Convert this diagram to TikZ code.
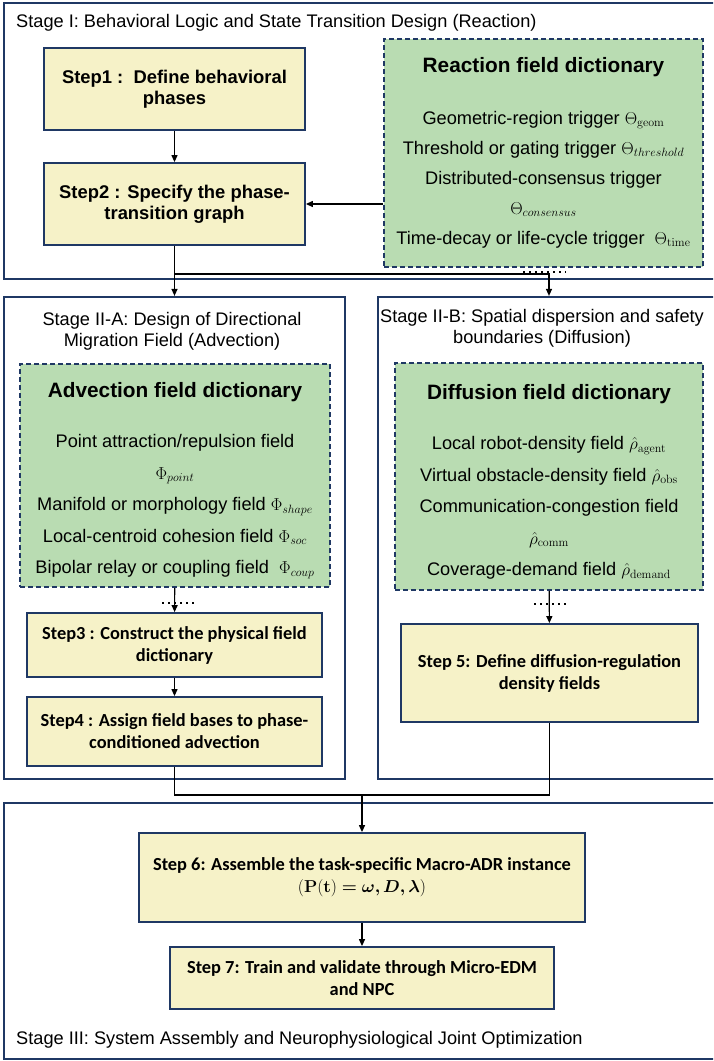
\documentclass[tikz,border=0pt]{standalone}
\usepackage{amsmath}
\usepackage{amssymb}
\usepackage{bm}
\usepackage[no-math]{fontspec}
\setmainfont{Liberation Sans}
\newfontfamily\stepfont{Carlito}
\usepackage{tikz}
\usepackage{xcolor}
\usetikzlibrary{arrows.meta}

\definecolor{framenavy}{RGB}{31,56,100}
\definecolor{stepyellow}{RGB}{246,242,200}
\definecolor{dictgreen}{RGB}{185,220,178}

\begin{document}
\begin{tikzpicture}[x=1pt, y=-1pt,
    stage/.style={draw=framenavy, line width=2.2pt, inner sep=0pt},
    stagetitle/.style={inner sep=0pt, align=center, font=\fontsize{18.2}{21}\selectfont},
    stepbox/.style={draw=framenavy, fill=stepyellow, line width=1.8pt, inner sep=0pt, align=center,
        font=\stepfont\bfseries\fontsize{18.4}{22}\selectfont},
    firststep/.style={stepbox, font=\bfseries\fontsize{18.4}{21}\selectfont},
    dictbox/.style={draw=framenavy, fill=dictgreen, line width=1.5pt, dash pattern=on 5pt off 3pt,
        inner sep=0pt, align=center, font=\fontsize{18.2}{31.5}\selectfont},
    conn/.style={draw=black, line width=1.2pt},
    arrow/.style={conn, -{Triangle[length=7pt, width=6pt]}},
    dotline/.style={draw=black, line width=1.3pt, dash pattern=on 1.5pt off 4.5pt}
    ]

        \useasboundingbox (0,0) rectangle (713,1061);
        \clip (0,0) rectangle (713,1061);

        % stage frames
        \node[stage, minimum width=716, minimum height=276] (stage1) at (362,141) {};
        \node[stage, minimum width=341, minimum height=482] (stage2a) at (174.5,538) {};
        \node[stage, minimum width=342, minimum height=482] (stage2b) at (549,538) {};
        \node[stage, minimum width=716, minimum height=256] (stage3) at (362,931) {};

        \node[stagetitle, anchor=west] (title1) at (16,23) {Stage I: Behavioral Logic and State Transition Design (Reaction)};
        \node[stagetitle] (title2a) at (172,331) {Stage II-A: Design of Directional\\Migration Field (Advection)};
        \node[stagetitle] (title2b) at (542,328) {Stage II-B: Spatial dispersion and safety\\boundaries (Diffusion)};
        \node[stagetitle, anchor=west] (title3) at (16,1040) {Stage III: System Assembly and Neurophysiological Joint Optimization};

        % stage I
        \node[firststep, minimum width=261, minimum height=82] (step1) at (174.5,89) {Step1 :\ \ Define behavioral\\phases};
        \node[firststep, minimum width=261, minimum height=82] (step2) at (174.5,204) {Step2 : Specify the phase-\\transition graph};
        \node[dictbox, minimum width=319, minimum height=228] (reaction) at (543.5,153)
            {{\bfseries\fontsize{20.8}{24}\selectfont Reaction field dictionary}\\[20pt]
             Geometric-region trigger $\Theta_{\mathrm{geom}}$\\[-1.5pt]
             Threshold or gating trigger $\Theta_{threshold}$\\[-1.5pt]
             Distributed-consensus trigger\\[-1.5pt]
             $\Theta_{consensus}$\\[-1.5pt]
             Time-decay or life-cycle trigger\ \ $\Theta_{\mathrm{time}}$};

        % stage II-A
        \node[dictbox, minimum width=310, minimum height=223] (advection) at (175,475.5)
            {{\bfseries\fontsize{20.8}{24}\selectfont\rule{0pt}{25pt}Advection field dictionary}\\[19pt]
             Point attraction/repulsion field\\
             $\Phi_{point}$\\
             Manifold or morphology field $\Phi_{shape}$\\
             Local-centroid cohesion field $\Phi_{soc}$\\
             Bipolar relay or coupling field\ \ $\Phi_{coup}$};
        \node[stepbox, minimum width=295, minimum height=64] (step3) at (174.5,645) {Step3 : Construct the physical field\\dictionary};
        \node[stepbox, minimum width=295, minimum height=69] (step4) at (174.5,731.5) {Step4 : Assign field bases to phase-\\conditioned advection};

        % stage II-B
        \node[dictbox, minimum width=308, minimum height=227] (diffusion) at (549,476.5)
            {{\bfseries\fontsize{20.8}{24}\selectfont\rule{0pt}{26pt}Diffusion field dictionary}\\[19pt]
             Local robot-density field $\hat{\rho}_{\mathrm{agent}}$\\
             Virtual obstacle-density field $\hat{\rho}_{\mathrm{obs}}$\\
             Communication-congestion field\\
             $\hat{\rho}_{\mathrm{comm}}$\\
             Coverage-demand field $\hat{\rho}_{\mathrm{demand}}$};
        \node[stepbox, minimum width=297, minimum height=98] (step5) at (549.5,673) {Step 5: Define diffusion-regulation\\density fields};

        % stage III
        \node[stepbox, minimum width=446, minimum height=89] (step6) at (362,877.5)
            {Step 6: Assemble the task-specific Macro-ADR instance\\$\mathbf{(P(t)} \mathrel{\bm{=}} \bm{\omega, D, \lambda}\mathbf{)}$};
        \node[stepbox, minimum width=384, minimum height=62] (step7) at (362,978) {Step 7: Train and validate through Micro-EDM\\and NPC};

        % connectors
        \coordinate (split) at (174.5,274);
        \coordinate (join) at (362,795);

        \draw[arrow] (step1) -- (step2);
        \draw[arrow] (reaction.west |- step2.east) -- (step2.east);
        \draw[arrow] (step2) -- (stage2a.north);
        \draw[arrow] (split) -| (stage2b.north);
        \draw[arrow] (advection) -- (step3);
        \draw[arrow] (step3) -- (step4);
        \draw[arrow] (diffusion) -- (step5);
        \draw[conn] (step4.south) |- (join) -| (step5.south);
        \draw[arrow] (join) -- (step6.north);
        \draw[arrow] (step6) -- (step7);

        \draw[dotline] (523,272) -- (566,272);
        \draw[dotline] (162,603) -- (194,603);
        \draw[dotline] (534,604) -- (567,604);

    \end{tikzpicture}
\end{document}
